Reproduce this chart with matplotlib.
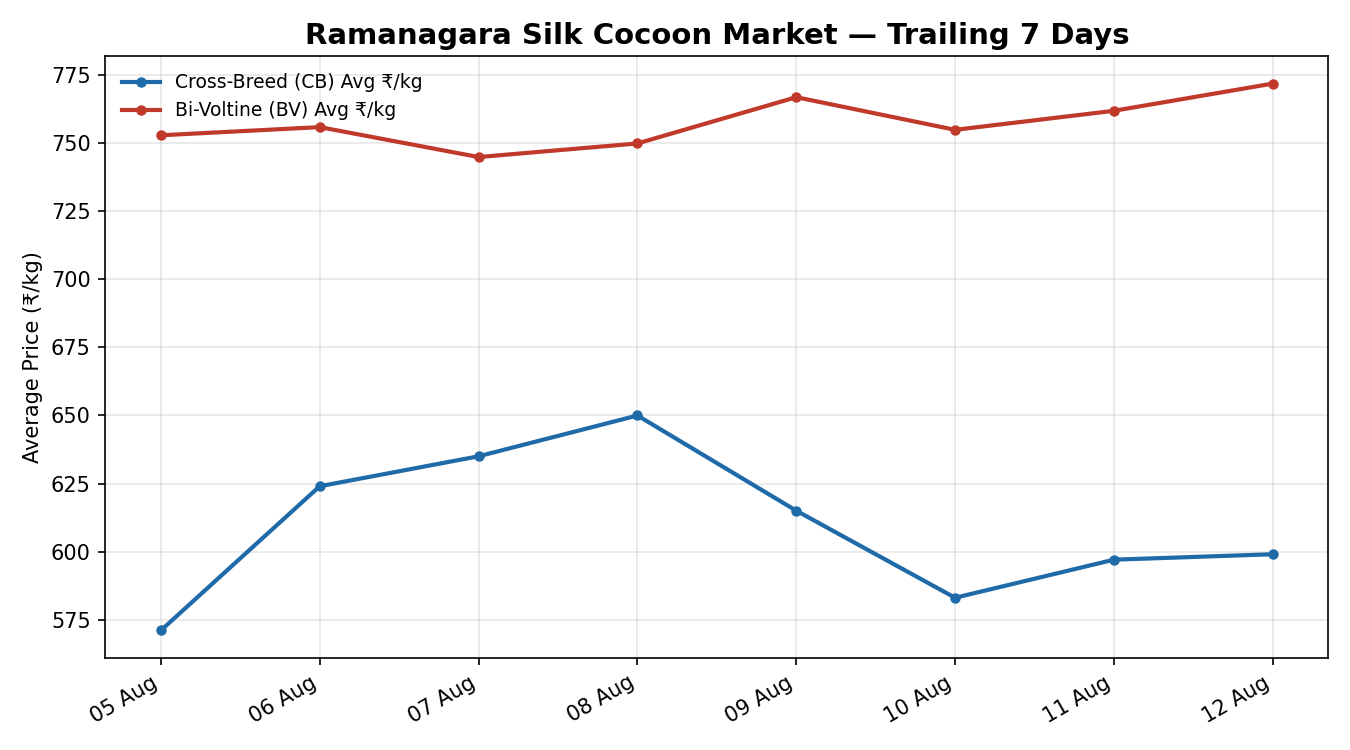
import numpy as np
import pandas as pd
import matplotlib
matplotlib.use("Agg")
import matplotlib.pyplot as plt
import matplotlib.dates as mdates

dates = pd.date_range("2024-08-05", "2024-08-12", freq="D")
cb_avg = [571, 624, 635, 650, 615, 583, 597, 599]
bv_avg = [753, 756, 745, 750, 767, 755, 762, 772]

fig, ax = plt.subplots(figsize=(9, 5), dpi=150)
fig.subplots_adjust(left=0.078, right=0.984, top=0.925, bottom=0.123)

ax.plot(dates, cb_avg, color="#1f6aa8", lw=2, marker="o", ms=4,
        label="Cross-Breed (CB) Avg ₹/kg")
ax.plot(dates, bv_avg, color="#c0392b", lw=2, marker="o", ms=4,
        label="Bi-Voltine (BV) Avg ₹/kg")

ax.set_title("Ramanagara Silk Cocoon Market — Trailing 7 Days",
             fontsize=14, fontweight="bold")
ax.set_ylabel("Average Price (₹/kg)", fontsize=10)
ax.xaxis.set_major_locator(mdates.DayLocator())
ax.xaxis.set_major_formatter(mdates.DateFormatter("%d %b"))
plt.setp(ax.get_xticklabels(), rotation=30, ha="right")
ax.tick_params(labelsize=10)
ax.grid(True, alpha=0.3)
ax.legend(loc="upper left", frameon=False, fontsize=9)

fig.savefig("out.png")
